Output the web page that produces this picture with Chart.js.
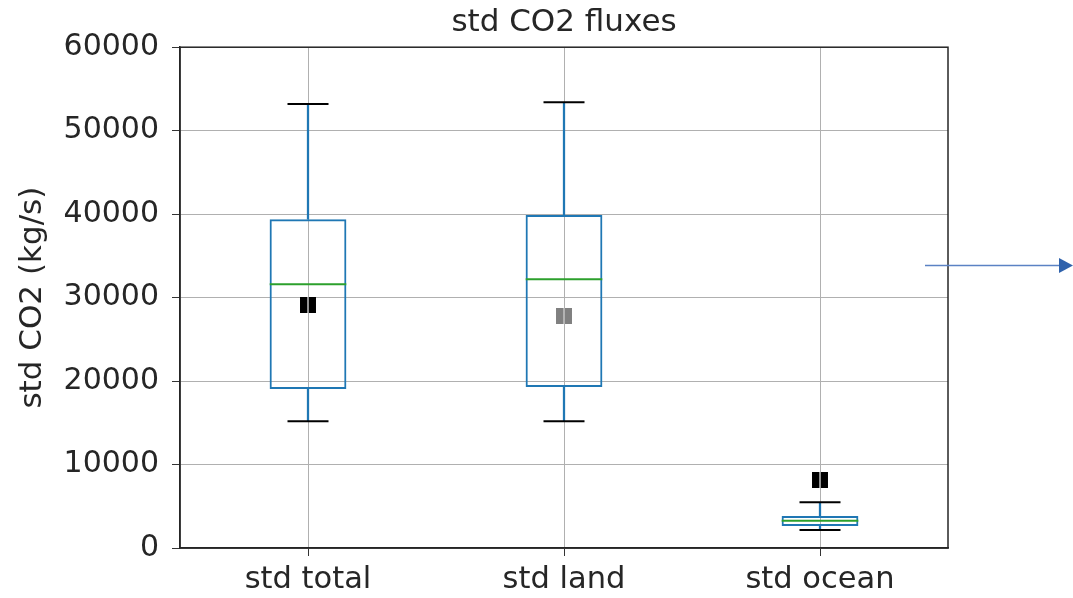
<!DOCTYPE html>
<html>
<head>
<meta charset="utf-8">
<script src="https://cdn.jsdelivr.net/npm/chart.js@4/dist/chart.umd.min.js"></script>
<style>
    html, body { margin: 0; padding: 0; background: #fff; }
    #wrap { width: 1073px; height: 598px; }
</style>
</head>
<body>
<div id="wrap"><canvas id="boxChart" width="1073" height="598"></canvas></div>
<script>
// 箱线图数据
const categories = ['std total', 'std land', 'std ocean'];
const whiskerLow = [15200, 15200, 2150];
const q1 = [19050, 19300, 2650];
const median = [31600, 32200, 3270];
const q3 = [39400, 39900, 3830];
const whiskerHigh = [53200, 53400, 5480];
const means = [29100, 27800, 8150];
const meanColors = ['#000000', '#808080', '#000000'];
const yTicks = [0, 10000, 20000, 30000, 40000, 50000, 60000];

const FONT = 'DejaVu Sans';
const TEXT = '#262626';

// 外框（matplotlib 风格四边框）
const framePlugin = {
    id: 'frame',
    afterDraw(chart) {
        const a = chart.chartArea;
        const ctx = chart.ctx;
        ctx.save();
        ctx.strokeStyle = TEXT;
        ctx.lineWidth = 1.5;
        ctx.strokeRect(a.left, a.top, a.right - a.left, a.bottom - a.top);
        ctx.restore();
    }
};

// 右侧的箭头标注
const arrowPlugin = {
    id: 'arrow',
    afterDraw(chart) {
        const ctx = chart.ctx;
        ctx.save();
        ctx.strokeStyle = '#5b82c4';
        ctx.lineWidth = 1.5;
        ctx.beginPath();
        ctx.moveTo(925, 265.5);
        ctx.lineTo(1062, 265.5);
        ctx.stroke();
        ctx.fillStyle = '#2f62ac';
        ctx.beginPath();
        ctx.moveTo(1073, 265.5);
        ctx.lineTo(1059, 258);
        ctx.lineTo(1059, 273);
        ctx.closePath();
        ctx.fill();
        ctx.restore();
    }
};

const caps = [];
categories.forEach((c, i) => {
    caps.push({ x: c, y: whiskerLow[i] });
    caps.push({ x: c, y: whiskerHigh[i] });
});

const ctx = document.getElementById('boxChart').getContext('2d');
new Chart(ctx, {
    type: 'bar',
    data: {
        labels: categories,
        datasets: [
            {
                // 均值标记
                type: 'line',
                data: categories.map((c, i) => ({ x: c, y: means[i] })),
                showLine: false,
                pointStyle: 'rect',
                pointRadius: 11.3,
                pointBackgroundColor: meanColors,
                pointBorderColor: meanColors,
                pointBorderWidth: 0,
                order: 6
            },
            {
                // 网格线压在均值标记上的效果
                type: 'line',
                data: categories.map((c, i) => ({ x: c, y: means[i] })),
                showLine: false,
                pointStyle: 'line',
                pointRotation: 90,
                pointRadius: 8,
                pointBorderColor: '#c4c4c4',
                pointBorderWidth: 1.5,
                order: 5
            },
            {
                type: 'line',
                data: categories.map((c, i) => ({ x: c, y: median[i] })),
                showLine: false,
                pointStyle: 'line',
                pointRadius: 38.3,
                pointBorderColor: '#2ca02c',
                pointBorderWidth: 2,
                order: 1
            },
            {
                type: 'line',
                data: caps,
                showLine: false,
                pointStyle: 'line',
                pointRadius: 20.5,
                pointBorderColor: '#000000',
                pointBorderWidth: 2,
                order: 2
            },
            {
                // 箱体
                data: categories.map((c, i) => [q1[i], q3[i]]),
                backgroundColor: 'rgba(0,0,0,0)',
                borderColor: '#1f77b4',
                borderWidth: 2,
                borderSkipped: false,
                barPercentage: 0.3,
                categoryPercentage: 1,
                grouped: false,
                order: 3
            },
            {
                data: categories.map((c, i) => [whiskerLow[i], q1[i]]),
                backgroundColor: '#1f77b4',
                borderWidth: 0,
                barThickness: 1.6,
                grouped: false,
                order: 4
            },
            {
                data: categories.map((c, i) => [q3[i], whiskerHigh[i]]),
                backgroundColor: '#1f77b4',
                borderWidth: 0,
                barThickness: 1.6,
                grouped: false,
                order: 4
            }
        ]
    },
    options: {
        responsive: false,
        animation: false,
        layout: { padding: { left: 0, right: 125, top: 0, bottom: 0 } },
        plugins: {
            legend: { display: false },
            tooltip: { enabled: false },
            title: {
                display: true,
                text: 'std CO2 fluxes',
                fullSize: false,
                color: TEXT,
                font: { family: FONT, size: 31, weight: 'normal' },
                padding: { top: 4, bottom: 6 }
            }
        },
        scales: {
            x: {
                offset: true,
                grid: { offset: false, color: '#b0b0b0', lineWidth: 1, tickColor: '#333', tickLength: 8 },
                border: { display: true, color: TEXT, width: 1.5 },
                ticks: { color: TEXT, font: { family: FONT, size: 30.5 }, padding: 6, maxRotation: 0 },
                afterFit: s => { s.height = 50; }
            },
            y: {
                min: 0,
                max: 60000,
                afterBuildTicks: s => { s.ticks = yTicks.map(v => ({ value: v })); },
                grid: { color: '#b0b0b0', lineWidth: 1, tickColor: '#333', tickLength: 8 },
                border: { display: true, color: TEXT, width: 1.5 },
                ticks: { color: TEXT, font: { family: FONT, size: 30 }, padding: 13, callback: v => String(v) },
                title: {
                    display: true,
                    text: 'std CO2 (kg/s)',
                    color: TEXT,
                    font: { family: FONT, size: 31 },
                    padding: { top: 14, bottom: 0 }
                },
                afterFit: s => { s.width = 180; }
            }
        }
    },
    plugins: [framePlugin, arrowPlugin]
});
</script>
</body>
</html>
